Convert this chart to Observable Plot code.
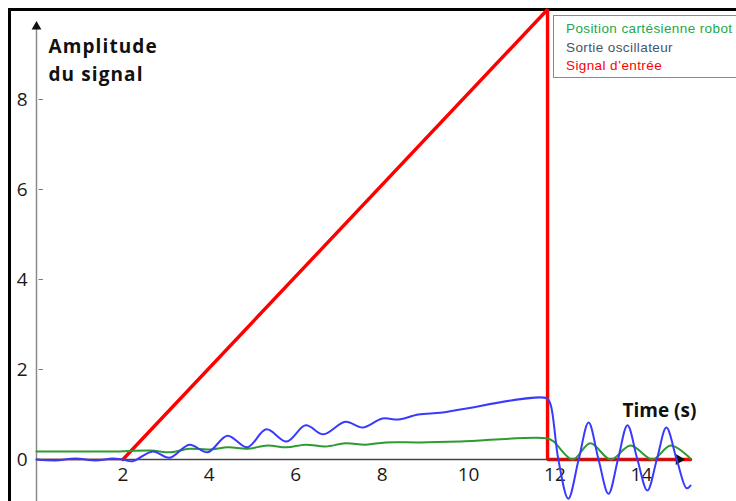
<!DOCTYPE html>
<html>
<head>
<meta charset="utf-8">
<script src="https://cdn.jsdelivr.net/npm/d3@7"></script>
<script src="https://cdn.jsdelivr.net/npm/@observablehq/plot@0.6"></script>
<style>
  html, body { margin: 0; padding: 0; background: #fff; }
  #wrap { position: relative; width: 736px; height: 501px; overflow: hidden; background: #fff; }
  #frame { position: absolute; left: 8px; top: 8px; width: 800px; height: 600px; border: 3px solid #000; box-sizing: border-box; }
  #chart { position: absolute; left: 0; top: 0; }
  #legend { position: absolute; left: 553px; top: 15px; width: 300px; height: 63px; box-sizing: border-box;
            border: 1.5px solid #8a8a8a; background: #fff; padding: 4px 0 0 12px;
            font-family: "Liberation Sans", Arial, sans-serif; font-size: 13.5px; letter-spacing: 0.4px; line-height: 18.5px; }
</style>
</head>
<body>
<div id="wrap">
  <div id="frame"></div>
  <div id="chart"></div>
  <div id="legend"></div>
</div>
<script>
// ---- data ----
const seriesNames = ["Position cartésienne robot", "Sortie oscillateur", "Signal d\u2019entrée"];
const seriesLegendColors = ["#22a84a", "#44546a", "#ff0000"];

// input signal (red)
const redT = [0, 2, 11.83, 11.83, 15.14];
const redV = [0, 0, 10, 0, 0];

// oscillator output (blue)
const blueT = [0, 0.44, 0.90, 1.37, 1.76, 1.99, 2.22, 2.69, 3.08, 3.54, 3.96, 4.42, 4.88, 5.32, 5.79, 6.23, 6.64, 7.15, 7.55, 8.01, 8.38, 8.84, 9.35, 9.81, 11.81, 11.90, 12.08, 12.31, 12.55, 12.78, 13.01, 13.24, 13.46, 13.68, 13.91, 14.14, 14.36, 14.58, 14.82, 15.05, 15.14];
const blueV = [0, -0.02, 0.02, -0.02, 0.02, 0, -0.04, 0.18, 0.04, 0.33, 0.16, 0.53, 0.27, 0.67, 0.40, 0.76, 0.56, 0.84, 0.71, 0.91, 0.89, 1.00, 1.04, 1.11, 1.36, 1.22, 0, -0.87, 0, 0.82, 0, -0.76, 0, 0.76, 0, -0.69, 0, 0.71, 0, -0.64, -0.58];

// cartesian robot position (green)
const greenT = [0, 1.94, 2.64, 3.10, 3.54, 3.98, 4.44, 4.88, 5.35, 5.79, 6.23, 6.69, 7.15, 7.62, 8.08, 8.89, 9.81, 11.81, 11.97, 12.41, 12.82, 13.29, 13.75, 14.26, 14.68, 15.14];
const greenV = [0.18, 0.18, 0.20, 0.16, 0.24, 0.22, 0.27, 0.24, 0.31, 0.27, 0.33, 0.29, 0.36, 0.33, 0.38, 0.38, 0.40, 0.47, 0.40, 0, 0.36, 0, 0.31, 0, 0.31, 0.02];

// axes
const xTicks = [2, 4, 6, 8, 10, 12, 14];
const yTicks = [0, 2, 4, 6, 8];
const xAxisEnd = 14.95;    // arrow tip of the time axis
const yAxisTop = 9.66;     // arrow tip of the amplitude axis
const yAxisBottom = -1;
const yLabel = "Amplitude\ndu signal";
const xLabel = "Time (s)";

// ---- build tables ----
const red = redT.map((t, i) => ({t, v: redV[i]}));
const blue = blueT.map((t, i) => ({t, v: blueV[i]}));
const green = greenT.map((t, i) => ({t, v: greenV[i]}));

const chart = Plot.plot({
  width: 736,
  height: 501,
  marginLeft: 36,
  marginRight: 8.8,
  marginTop: 9,
  marginBottom: 42,
  x: {domain: [0, 16]},
  y: {domain: [0, 10]},
  style: {fontFamily: "'Open Sans', sans-serif", fontSize: "19px", color: "#1a1a1a", background: "transparent", overflow: "visible"},
  marks: [
    // y axis line with arrow
    Plot.ruleX([0], {y1: yAxisBottom, y2: yAxisTop - 0.1, stroke: "#8a8a8a", strokeWidth: 1.5}),
    Plot.dot([{t: 0, v: yAxisTop - 0.04}], {x: "t", y: "v", symbol: "triangle", r: 3.6, fill: "#111", stroke: null}),
    Plot.ruleY(yTicks.filter(d => d > 0), {x1: 0.06, x2: 0.16, stroke: "#777", strokeWidth: 1}),
    Plot.axisY({anchor: "left", ticks: yTicks, tickSize: 0, tickPadding: 9, label: null, tickFormat: d => String(d)}),
    Plot.axisX({anchor: "bottom", ticks: xTicks, tickSize: 0, tickPadding: 8, label: null, tickFormat: d => String(d)}),
    // input signal
    Plot.line(red.slice(0, 2), {x: "t", y: "v", stroke: "#a01818", strokeWidth: 1.6}),
    Plot.line(red.slice(1), {x: "t", y: "v", stroke: "#ff0000", strokeWidth: 3.4, strokeLinejoin: "miter"}),
    // x axis line with arrow
    Plot.ruleY([0], {x1: 0, x2: xAxisEnd - 0.1, stroke: "#444", strokeWidth: 1.3}),
    Plot.dot([{t: xAxisEnd - 0.08, v: 0}], {x: "t", y: "v", symbol: "triangle", r: 4, fill: "#111", stroke: null, rotate: 90}),
    // robot position and oscillator output
    Plot.line(green, {x: "t", y: "v", stroke: "#2e9a32", strokeWidth: 2, curve: "catmull-rom"}),
    Plot.line(blue, {x: "t", y: "v", stroke: "#3a3aff", strokeWidth: 2, curve: "catmull-rom"}),
    // axis titles
    Plot.text([yLabel], {frameAnchor: "top-left", text: d => d, dx: 12, dy: 24, textAnchor: "start", lineAnchor: "top", lineHeight: 1.47, fontWeight: "bold", fontSize: 19, fill: "#111"}),
    Plot.text([xLabel], {frameAnchor: "top-left", text: d => d, dx: 586, dy: 394, textAnchor: "start", lineAnchor: "top", fontWeight: "bold", fontSize: 19, fill: "#111"})
  ]
});
document.getElementById("chart").appendChild(chart);
chart.querySelectorAll("text").forEach(el => {
  if (el.textContent.startsWith("Amplitude")) el.setAttribute("letter-spacing", "1.1");
});

// legend
const legend = document.getElementById("legend");
seriesNames.forEach((name, i) => {
  const div = document.createElement("div");
  div.textContent = name;
  div.style.color = seriesLegendColors[i];
  div.style.whiteSpace = "nowrap";
  legend.appendChild(div);
});
</script>
</body>
</html>
